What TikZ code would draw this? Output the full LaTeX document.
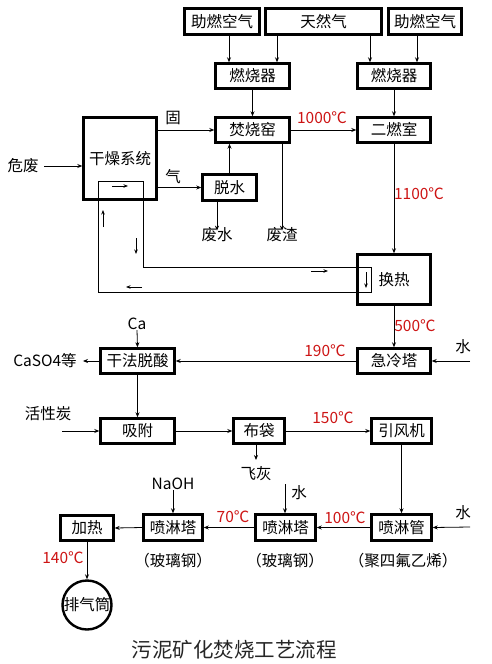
\documentclass[tikz,border=0pt]{standalone}
\usepackage{fontspec}
\setmainfont{Noto Sans CJK SC}
\usetikzlibrary{arrows.meta}
\definecolor{tred}{RGB}{205,20,20}
\begin{document}
\begin{tikzpicture}[x=1pt,y=-1pt,
  font=\fontsize{15.5}{17}\selectfont,
  box/.style={draw,line width=2.4pt,minimum height=26pt,inner sep=1pt},
  arr/.style={-{Stealth[length=5pt,width=4pt]},line width=0.8pt},
  lbl/.style={inner sep=0pt},
  temp/.style={inner sep=0pt,text=tred},
  mk/.style={-{Stealth[length=4.5pt,width=3.5pt]},line width=0.8pt}]
\useasboundingbox (0,0) rectangle (491,664);
% boxes
\node[box,minimum width=75pt] (ha1) at (222,21.5) {助燃空气};
\node[box,minimum width=116pt] (tr) at (323.5,21.5) {天然气};
\node[box,minimum width=73pt] (ha2) at (425,21.5) {助燃空气};
\node[box,minimum width=74pt,minimum height=25pt] (rs1) at (252.5,76) {燃烧器};
\node[box,minimum width=73pt,minimum height=25pt] (rs2) at (394,76) {燃烧器};
\node[box,minimum width=74pt,minimum height=25pt] (fsy) at (252.5,130) {焚烧窑};
\node[box,minimum width=73pt,minimum height=25pt] (ers) at (394,130) {二燃室};
\node[box,minimum width=73pt,minimum height=82pt] (gz) at (120,158.5) {干燥系统};
\node[box,minimum width=54pt] (ts) at (229.5,187.5) {脱水};
\node[box,minimum width=73pt,minimum height=50pt] (hr) at (394,279.5) {换热};
\node[box,minimum width=73pt,minimum height=25pt] (jl) at (394,361) {急冷塔};
\node[box,minimum width=74pt,minimum height=25pt] (gf) at (137.5,361) {干法脱酸};
\node[box,minimum width=74pt,minimum height=25pt] (xf) at (137.5,431) {吸附};
\node[box,minimum width=51pt,minimum height=25pt] (bd) at (259,431) {布袋};
\node[box,minimum width=60pt,minimum height=25pt] (yf) at (401.5,431) {引风机};
\node[box,minimum width=60pt] (plg) at (401.5,527.5) {喷淋管};
\node[box,minimum width=60pt] (plt2) at (285.5,527.5) {喷淋塔};
\node[box,minimum width=59pt] (plt1) at (173,527.5) {喷淋塔};
\node[box,minimum width=53pt,minimum height=25pt] (jr) at (87,528) {加热};
\node[draw,circle,line width=2.4pt,minimum size=49pt,inner sep=0pt] (pqt) at (87,605) {排气筒};
% labels
\node[lbl] (wf) at (23,166) {危废};
\node[lbl] (gu) at (173,118) {固};
\node[lbl] (qi) at (173,177) {气};
\node[lbl] (fs) at (217,235) {废水};
\node[lbl] (fz) at (282,235) {废渣};
\node[temp] (t1000) at (322,118) {1000℃};
\node[temp] (t1100) at (419,194) {1100℃};
\node[temp] (t500) at (415,326) {500℃};
\node[temp] (t190) at (325,351) {190℃};
\node[temp] (t150) at (333,418) {150℃};
\node[temp] (t100) at (345,518) {100℃};
\node[temp] (t70) at (233,517) {70℃};
\node[temp] (t140) at (63,558) {140℃};
\node[lbl] (sh1) at (463,347) {水};
\node[lbl] (ca) at (137,324) {Ca};
\node[lbl] (cs) at (45,361) {CaSO4等};
\node[lbl] (hxt) at (48,414) {活性炭};
\node[lbl] (fh) at (256,474) {飞灰};
\node[lbl] (sh2) at (463,513) {水};
\node[lbl] (sh3) at (299,493) {水};
\node[lbl] (naoh) at (173,484) {NaOH};
\node[lbl] (blg1) at (173,561) {（玻璃钢）};
\node[lbl] (blg2) at (285,561) {（玻璃钢）};
\node[lbl] (jsf) at (403,561) {（聚四氟乙烯）};
\node[lbl,font=\fontsize{20.5}{22}\selectfont,text=black!85] (title) at (234,650) {污泥矿化焚烧工艺流程};
% free ends
\coordinate (w1) at (470,361);
\coordinate (w2) at (470,527);
\coordinate (w3) at (285,484);
\coordinate (hx) at (62,431);
\coordinate (wfs) at (44,166);
% connectors
\draw[arr] ([xshift=7pt]ha1.south) -- ([xshift=7pt]ha1.south |- rs1.north);
\draw[arr] ([xshift=-46.5pt]tr.south) -- ([xshift=-46.5pt]tr.south |- rs1.north);
\draw[arr] ([xshift=46.5pt]tr.south) -- ([xshift=46.5pt]tr.south |- rs2.north);
\draw[arr] ([xshift=-8pt]ha2.south) -- ([xshift=-8pt]ha2.south |- rs2.north);
\draw[arr] (rs1.south) -- (fsy.north);
\draw[arr] (rs2.south) -- (ers.north);
\draw[arr] (fsy.east) -- (ers.west);
\draw[arr] (gz.east |- fsy.west) -- (fsy.west);
\draw[arr] (wfs) -- (wfs -| gz.west);
\draw[arr] (gz.east |- ts.west) -- (ts.west);
\draw[arr] (ts.north) -- (ts.north |- fsy.south);
\draw[arr] ([xshift=-12.5pt]ts.south) -- ([xshift=-12.5pt,yshift=-3pt]ts.south |- fs.north);
\draw[arr] ([xshift=29.5pt]fsy.south) -- ([xshift=29.5pt,yshift=-3pt]fsy.south |- fz.north);
\draw[arr] (ers.south) -- (hr.north);
\draw[arr] (hr.south) -- (jl.north);
\draw[arr] (w1) -- (jl.east);
\draw[arr] (jl.west) -- (gf.east);
\draw[arr] (ca.south) -- (gf.north);
\draw[arr] (gf.west) -- ([xshift=6pt]cs.east);
\draw[arr] (gf.south) -- (xf.north);
\draw[arr] (hx) -- (xf.west);
\draw[arr] (xf.east) -- (bd.west);
\draw[arr] ([xshift=-3pt]bd.south) -- ([xshift=-3pt]bd.south |- 0,460);
\draw[arr] (bd.east) -- (yf.west);
\draw[arr] (yf.south) -- (plg.north);
\draw[arr] (w2) -- (plg.east);
\draw[arr] (plg.west) -- (plt2.west -| plt2.east);
\draw[arr] (w3) -- (w3 |- plt2.north);
\draw[arr] (plt2.west) -- (plt1.east);
\draw[arr] (naoh.south) -- (plt1.north);
\draw[arr] (plt1.west) -- (jr.east);
\draw[arr] (jr.south) -- (pqt.north);
% drying loop
\draw[line width=0.8pt] (98,181) -- (143,181) -- (143,267) -- (371,267) -- (371,292) -- (98,292) -- cycle;
\draw[mk] (112,186) -- (128,186);
\draw[mk] (136,238) -- (136,254);
\draw[mk] (103,227) -- (103,210);
\draw[mk] (142,287) -- (126,287);
\draw[mk] (311,271) -- (328,271);
\draw[mk] (366,272) -- (366,288);
\end{tikzpicture}
\end{document}
